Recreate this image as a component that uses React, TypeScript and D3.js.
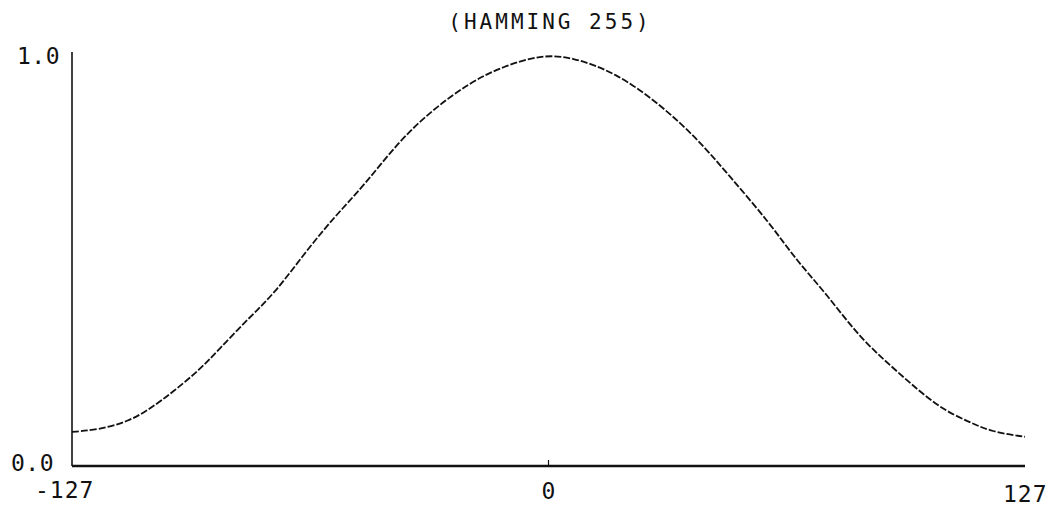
import React from "react";
import * as d3 from "d3";

// sample index n (window position)
const sampleN = [
  -127, -120, -112, -106, -100, -93, -88, -80, -73, -65, -57, -49, -40, -31, -21,
  -12, -2, 6, 18, 30, 40, 48, 59, 66, 74, 83, 93, 104, 112, 118, 127,
];
// window weight at each sample
const weight = [
  0.083, 0.088, 0.108, 0.14, 0.181, 0.234, 0.282, 0.359, 0.42, 0.518, 0.607, 0.684,
  0.789, 0.866, 0.933, 0.973, 1.0, 0.996, 0.957, 0.878, 0.793, 0.708, 0.591, 0.501,
  0.42, 0.311, 0.229, 0.141, 0.108, 0.083, 0.071,
];

const xTicks = [-127, 0, 127];
const yTicks = [0, 1];
const title = "(HAMMING 255)";

const W = 1048;
const H = 510;
const font = "'DejaVu Sans Mono', 'Liberation Mono', monospace";

export default function App() {
  const x = d3.scaleLinear().domain([-127, 127]).range([72, 1025]);
  const y = d3.scaleLinear().domain([0, 1]).range([466, 55]);

  const points = sampleN.map((n, i) => [n, weight[i]] as [number, number]);
  const line = d3
    .line<[number, number]>()
    .x((d) => x(d[0]))
    .y((d) => y(d[1]))
    .curve(d3.curveBasis);

  // x label placement, nudged like the plotter output
  const xLabelX = (t: number) => (t === -127 ? 35 : t === 0 ? x(0) : 1003);
  const xLabelY = (t: number) => (t === 127 ? 502 : t === 0 ? 499 : 498);

  return (
    <div style={{ position: "absolute", left: 0, top: 0 }}>
      <svg width={W} height={H} style={{ display: "block", background: "#fff" }}>
        {/* title */}
        <text
          x={550}
          y={29}
          textAnchor="middle"
          fontFamily={font}
          fontSize={21}
          letterSpacing={3}
          fill="#111"
        >
          {title}
        </text>

        {/* axes */}
        <line x1={x(-127)} x2={x(-127)} y1={52} y2={y(0)} stroke="#111" strokeWidth={1.6} />
        <line x1={x(-127)} x2={x(127)} y1={y(0)} y2={y(0)} stroke="#111" strokeWidth={2.6} />
        <line x1={x(0)} x2={x(0)} y1={y(0) - 6} y2={y(0)} stroke="#111" strokeWidth={1.2} />

        {/* y labels */}
        {yTicks.map((t) => (
          <text
            key={t}
            x={t === 1 ? 17 : 11}
            y={t === 1 ? y(t) + 9 : y(t) + 5}
            fontFamily={font}
            fontSize={23}
            letterSpacing={0.5}
            fill="#111"
          >
            {t.toFixed(1)}
          </text>
        ))}

        {/* x labels */}
        {xTicks.map((t) => (
          <text
            key={t}
            x={xLabelX(t)}
            y={xLabelY(t)}
            textAnchor={t === 0 ? "middle" : "start"}
            fontFamily={font}
            fontSize={23}
            letterSpacing={t === 0 ? 0 : 1}
            fill="#111"
          >
            {t}
          </text>
        ))}

        {/* window curve */}
        <path
          d={line(points) ?? ""}
          fill="none"
          stroke="#111"
          strokeWidth={1.8}
          strokeDasharray="7 2"
        />
      </svg>
    </div>
  );
}
